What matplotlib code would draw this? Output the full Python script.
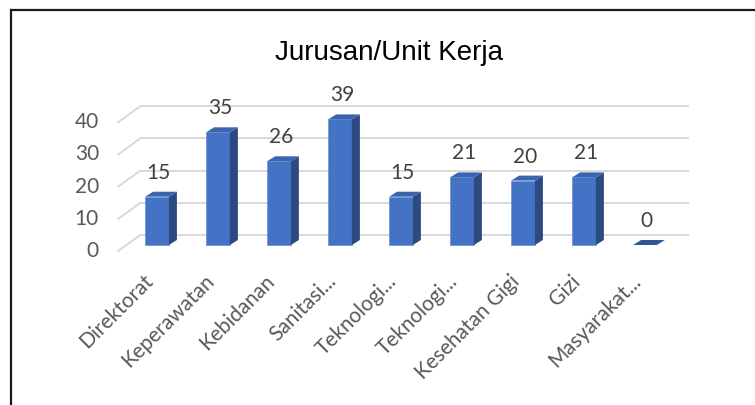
import numpy as np
import matplotlib
matplotlib.use('Agg')
import matplotlib.pyplot as plt
from matplotlib.patches import Polygon, Rectangle
from matplotlib.lines import Line2D

# ------------------------------------------------------------------
# Data
# ------------------------------------------------------------------
title = 'Jurusan/Unit Kerja'
categories = ['Direktorat', 'Keperawatan', 'Kebidanan', 'Sanitasi...',
              'Teknologi...', 'Teknologi...', 'Kesehatan Gigi', 'Gizi',
              'Masyarakat...']
values = [15, 35, 26, 39, 15, 21, 20, 21, 0]
y_ticks = [0, 10, 20, 30, 40]

# ------------------------------------------------------------------
# Style
# ------------------------------------------------------------------
FRONT = '#4472C4'
SIDE = '#2C4A80'
TOP = '#3B63AE'
FLAT = '#2F5597'
GRID = '#D9D9D9'
TICK_COLOR = '#595959'
LABEL_COLOR = '#404040'
LABEL_FONT = ['Lato', 'DejaVu Sans']
TITLE_FONT = ['Liberation Sans Narrow', 'Liberation Sans', 'DejaVu Sans']

W, H = 755, 405
fig = plt.figure(figsize=(W / 100, H / 100), dpi=100)

# axes mapped so one category = 61 px, one unit = 3.22 px
ax = fig.add_axes([96 / W, (H - 261.1) / H, 610 / W, 177.1 / H])
ax.set_xlim(-1, 9)
ax.set_ylim(-5, 50)
ax.axis('off')

# pseudo-3D offsets (data units)
bar_w = 0.39
bar_dx, bar_dy = 0.131, 1.55      # depth of a column
back_dx, back_dy = 0.225, 3.1     # back wall vs. bar front plane
floor_dx, floor_dy = -0.135, -1.86  # front edge of the floor
x_left, x_right = -0.5, 8.5

# gridlines on back wall + left side wall
for t in y_ticks:
    ax.plot([x_left + back_dx, x_right + back_dx], [t + back_dy, t + back_dy],
            color=GRID, lw=1.4, zorder=1, solid_capstyle='butt')
    ax.plot([x_left + floor_dx, x_left + back_dx], [t + floor_dy, t + back_dy],
            color=GRID, lw=1.4, zorder=1)
    ax.text(-0.951, t + floor_dy, str(t), ha='right', va='center',
            fontsize=15, color=TICK_COLOR, family=LABEL_FONT)

# columns
for i, v in enumerate(values):
    x0, x1 = i - bar_w / 2, i + bar_w / 2
    if v > 0:
        ax.add_patch(Rectangle((x0, 0), bar_w, v, facecolor=FRONT,
                               edgecolor='#6A8FD3', lw=0.5, zorder=3))
        ax.add_patch(Polygon([(x1, 0), (x1 + bar_dx, bar_dy),
                              (x1 + bar_dx, v + bar_dy), (x1, v)],
                             closed=True, facecolor=SIDE, lw=0, zorder=3))
        ax.add_patch(Polygon([(x0, v), (x1, v), (x1 + bar_dx, v + bar_dy),
                              (x0 + bar_dx, v + bar_dy)],
                             closed=True, facecolor=TOP, lw=0, zorder=3))
    else:
        ax.add_patch(Polygon([(x0, v), (x1, v), (x1 + bar_dx, v + bar_dy),
                              (x0 + bar_dx, v + bar_dy)],
                             closed=True, facecolor=FLAT, lw=0, zorder=3))

    # value label
    ax.annotate(str(v), xy=(i + 0.03, v), xytext=(0, 17.3),
                textcoords='offset points', ha='center', va='center',
                fontsize=15, color=LABEL_COLOR, family=LABEL_FONT,
                annotation_clip=False)

    # category label
    ax.annotate(categories[i], xy=(i, 0), xytext=(0, -18.7),
                textcoords='offset points', ha='right', va='top',
                rotation=45, fontsize=15, color=TICK_COLOR,
                family=LABEL_FONT, annotation_clip=False)

# title
fig.text(389.5 / W, (H - 60) / H, title, ha='center', va='baseline',
         fontsize=20, color='#000000', family=TITLE_FONT)

# picture frame (clipped at right and bottom)
fig.add_artist(Line2D([11 / W, 11 / W], [1 - 10 / H, 0], transform=fig.transFigure,
                      color='#1A1A1A', lw=1.6))
fig.add_artist(Line2D([11 / W, 1], [1 - 10 / H, 1 - 10 / H], transform=fig.transFigure,
                      color='#1A1A1A', lw=1.6))

fig.savefig('out.png', dpi=100)
